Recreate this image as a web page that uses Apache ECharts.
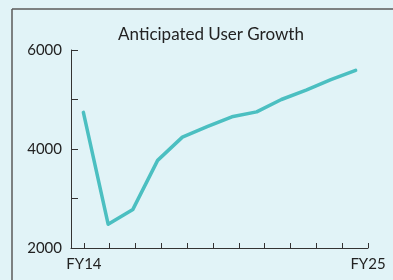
<!DOCTYPE html>
<html>
<head>
<meta charset="utf-8">
<script src="https://cdn.jsdelivr.net/npm/echarts@6/dist/echarts.min.js"></script>
<style>
  html, body { margin: 0; padding: 0; background: #e1f3f7; overflow: hidden; }
  #chart { width: 393px; height: 280px; }
</style>
</head>
<body>
<div id="chart"></div>
<script>
// fiscal years
var years = ['FY14', 'FY15', 'FY16', 'FY17', 'FY18', 'FY19', 'FY20', 'FY21', 'FY22', 'FY23', 'FY24', 'FY25'];
// anticipated users
var users = [4740, 2480, 2780, 3770, 4240, 4450, 4650, 4750, 5000, 5190, 5400, 5590];
var yTicks = [2000, 3000, 4000, 5000, 6000];
var yLabels = [2000, 4000, 6000];
var xLabelIdx = [0, 11];

var chart = echarts.init(document.getElementById('chart'));
var font = 'Lato, "Open Sans", sans-serif';

chart.setOption({
    backgroundColor: '#e1f3f7',
    animation: false,
    title: {
        text: 'Anticipated User Growth',
        left: 206,
        top: 21,
        textAlign: 'center',
        textStyle: { fontFamily: font, fontSize: 17, fontWeight: 'normal', color: '#222' }
    },
    graphic: [
        // frame, only top and left edges are inside the picture
        { type: 'line', shape: { x1: 12, y1: 9, x2: 12, y2: 290 }, style: { stroke: '#5a5a5a', lineWidth: 1.5 }, silent: true },
        { type: 'line', shape: { x1: 12, y1: 9, x2: 400, y2: 9 }, style: { stroke: '#5a5a5a', lineWidth: 1.5 }, silent: true }
    ],
    grid: { left: 71, right: 25, top: 50, bottom: 32 },
    xAxis: [
        {
            // visible axis: ticks and end labels
            type: 'value',
            min: -0.5,
            max: 11,
            splitLine: { show: false },
            axisLine: { onZero: false, lineStyle: { color: '#333', width: 1 } },
            axisTick: {
                inside: true, length: 5,
                customValues: years.map(function (y, i) { return i; }),
                lineStyle: { color: '#333' }
            },
            axisLabel: {
                customValues: xLabelIdx,
                formatter: function (v) { return years[v]; },
                fontFamily: font, fontSize: 15, color: '#222', margin: 9
            }
        },
        {
            // hidden axis the series is drawn on
            type: 'category',
            data: years,
            boundaryGap: true,
            show: false
        }
    ],
    yAxis: {
        type: 'value',
        min: 2000,
        max: 6000,
        interval: 1000,
        splitLine: { show: false },
        axisLine: { show: true, onZero: false, lineStyle: { color: '#333', width: 1 } },
        axisTick: {
            show: true, inside: true, length: 7,
            customValues: yTicks,
            lineStyle: { color: '#333' }
        },
        axisLabel: {
            customValues: yLabels,
            formatter: function (v) { return String(v); },
            fontFamily: font, fontSize: 15, color: '#222', margin: 9
        }
    },
    series: [{
        type: 'line',
        xAxisIndex: 1,
        data: users,
        symbol: 'none',
        lineStyle: { color: '#4bbfc1', width: 3.5, cap: 'round', join: 'round' }
    }]
});
</script>
</body>
</html>
